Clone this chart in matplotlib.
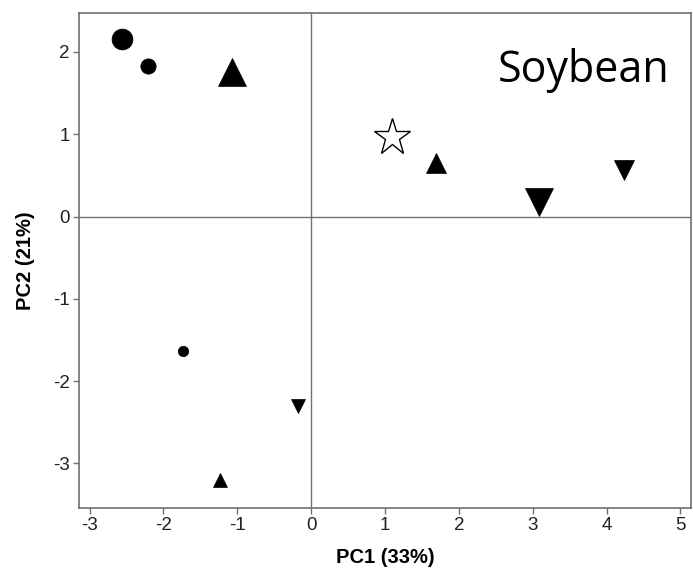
import matplotlib
matplotlib.use("Agg")
import matplotlib.pyplot as plt

# Data
pc1 = [-2.56, -2.21, -1.07, 1.10, 1.69, 3.09, 4.23, -1.74, -0.18, -1.23]
pc2 = [2.16, 1.83, 1.76, 0.97, 0.65, 0.18, 0.57, -1.63, -2.30, -3.20]
shapes = ["o", "o", "^", "*", "^", "v", "v", "o", "v", "^"]
sizes = [15, 11, 20, 28, 15, 20, 15, 7.5, 10, 10]
filled = [True, True, True, False, True, True, True, True, True, True]

xticks = [-3, -2, -1, 0, 1, 2, 3, 4, 5]
yticks = [-3, -2, -1, 0, 1, 2]

plt.rcParams["font.family"] = ["Liberation Sans", "DejaVu Sans"]
plt.rcParams["axes.unicode_minus"] = False
fig = plt.figure(figsize=(6.93, 5.74), dpi=100)
ax = fig.add_axes([0.1144, 0.1155, 0.8823, 0.8613])

grey = "#707070"
ax.axhline(0, color=grey, lw=1.0, zorder=1)
ax.axvline(0, color=grey, lw=1.0, zorder=1)

for x, y, m, s, f in zip(pc1, pc2, shapes, sizes, filled):
    ax.plot([x], [y], marker=m, markersize=s, linestyle="none",
            markerfacecolor="black" if f else "white",
            markeredgecolor="black", markeredgewidth=1.0 if not f else 0.5,
            zorder=3)

ax.set_xlim(-3.14, 5.14)
ax.set_ylim(-3.54, 2.47)
ax.set_xticks(xticks)
ax.set_yticks(yticks)
ax.set_xticklabels([str(t) for t in xticks])
ax.set_yticklabels([str(t) for t in yticks])
ax.tick_params(direction="out", length=4, width=1, color=grey,
               labelsize=13.5, labelcolor="#222222", pad=3)
for sp in ax.spines.values():
    sp.set_color(grey)
    sp.set_linewidth(1.2)

ax.set_xlabel("PC1 (33%)", fontsize=14.5, fontweight="bold", labelpad=10)
ax.set_ylabel("PC2 (21%)", fontsize=14.5, fontweight="bold", labelpad=13)

ax.text(0.965, 0.93, "Soybean", transform=ax.transAxes, ha="right", va="top",
        fontsize=31, family=["Open Sans", "DejaVu Sans"], color="black")

fig.savefig("out.png", dpi=100)
